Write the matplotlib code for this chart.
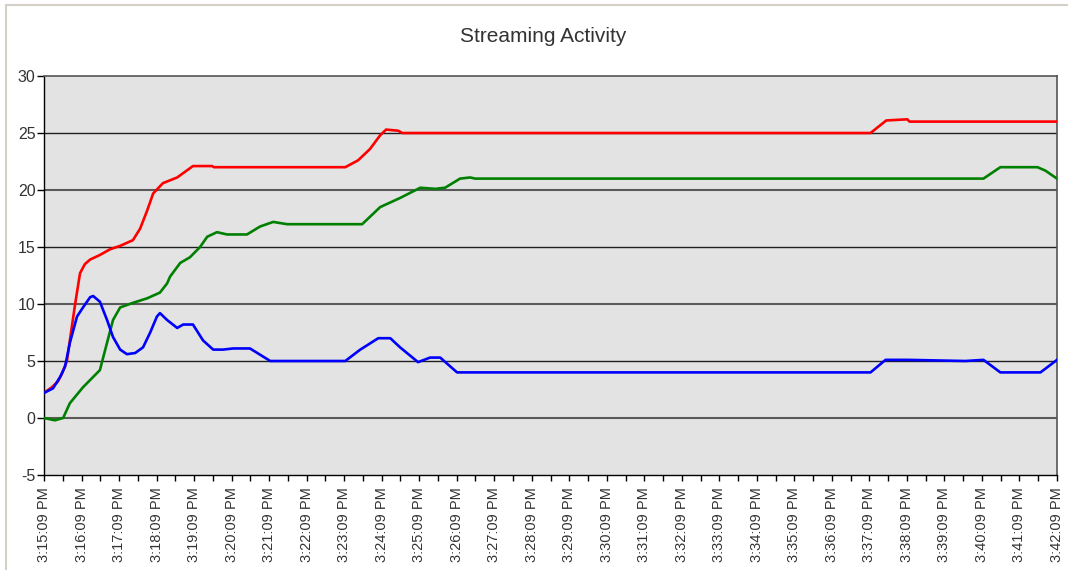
import matplotlib.pyplot as plt
import numpy as np

plt.rcParams['font.family'] = ['Liberation Sans', 'DejaVu Sans']
plt.rcParams['axes.unicode_minus'] = False

# time in minutes after 3:15:09 PM
red_t = [0.0, 0.21, 0.37, 0.48, 0.61, 0.72, 0.83, 0.96, 1.09, 1.23, 1.49, 1.76, 2.03, 2.37,
         2.56, 2.75, 2.91, 3.17, 3.55, 3.97, 4.48, 4.53, 8.03, 8.37, 8.69, 8.96, 9.12, 9.44,
         9.55, 22.03, 22.45, 23.01, 23.07, 27.0]
red_v = [2.2, 2.7, 3.2, 3.9, 5.0, 7.5, 10.0, 12.7, 13.5, 13.9, 14.3, 14.8, 15.1, 15.6,
         16.6, 18.2, 19.7, 20.6, 21.1, 22.1, 22.1, 22.0, 22.0, 22.6, 23.6, 24.8, 25.3, 25.2,
         25.0, 25.0, 26.1, 26.2, 26.0, 26.0]

green_t = [0.0, 0.29, 0.51, 0.69, 1.04, 1.31, 1.49, 1.68, 1.84, 2.03, 2.37, 2.75, 3.09,
           3.28, 3.36, 3.63, 3.89, 4.16, 4.35, 4.61, 4.88, 5.41, 5.76, 6.11, 6.48, 8.48,
           8.96, 9.49, 10.03, 10.43, 10.69, 11.09, 11.36, 11.49, 25.04, 25.49, 26.48,
           26.69, 27.0]
green_v = [0.0, -0.2, 0.0, 1.3, 2.7, 3.6, 4.2, 6.6, 8.6, 9.7, 10.1, 10.5, 11.0,
           11.8, 12.4, 13.6, 14.1, 15.0, 15.9, 16.3, 16.1, 16.1, 16.8, 17.2, 17.0, 17.0,
           18.5, 19.3, 20.2, 20.1, 20.2, 21.0, 21.1, 21.0, 21.0, 22.0, 22.0,
           21.7, 21.0]

blue_t = [0.0, 0.24, 0.43, 0.56, 0.69, 0.88, 1.04, 1.23, 1.31, 1.49, 1.68, 1.84, 2.03,
          2.21, 2.43, 2.64, 2.83, 3.01, 3.09, 3.28, 3.55, 3.71, 3.97, 4.24, 4.51, 4.77,
          5.04, 5.49, 6.03, 8.03, 8.43, 8.91, 9.23, 9.49, 9.97, 10.29, 10.56, 11.01,
          22.03, 22.43, 23.01, 24.56, 25.04, 25.49, 26.56, 27.0]
blue_v = [2.2, 2.6, 3.6, 4.5, 6.6, 8.9, 9.7, 10.6, 10.7, 10.2, 8.6, 7.1, 6.0,
          5.6, 5.7, 6.2, 7.5, 8.9, 9.2, 8.6, 7.9, 8.2, 8.2, 6.8, 6.0, 6.0,
          6.1, 6.1, 5.0, 5.0, 6.0, 7.0, 7.0, 6.2, 4.9, 5.3, 5.3, 4.0,
          4.0, 5.1, 5.1, 5.0, 5.1, 4.0, 4.0, 5.1]

minutes = list(range(15, 43))
tick_labels = [f"3:{m}:09 PM" for m in minutes]

fig = plt.figure(figsize=(10.68, 5.70), dpi=100)
fig.patch.set_facecolor('white')
# outer chart border
fig.add_artist(plt.Rectangle((6 / 1068, -0.05), 1.2, 1 - 5 / 570 + 0.05, transform=fig.transFigure,
                             fill=False, edgecolor='#d4d0c8', lw=1.5))

ax = fig.add_axes([44 / 1068, 1 - 475 / 570, (1057 - 44) / 1068, (475 - 76) / 570])
ax.set_facecolor('#e3e3e3')

for yv in [25, 20, 15, 10, 5, 0]:
    if yv % 10 == 0:
        ax.axhline(yv, color='#5a5a5a', lw=1.5, zorder=1)
    else:
        ax.axhline(yv, color='#202020', lw=1.0, zorder=1)

ax.plot(red_t, red_v, color='#ff0000', lw=1.9, zorder=3)
ax.plot(green_t, green_v, color='#008000', lw=1.9, zorder=3)
ax.plot(blue_t, blue_v, color='#0000ff', lw=1.9, zorder=4)

ax.set_xlim(0, 27)
ax.set_ylim(-5, 30)
ax.set_yticks(np.arange(-5, 31, 5))
ax.set_xticks(np.arange(0, 28, 1))
ax.set_xticks(np.arange(0.5, 27, 1), minor=True)
ax.set_xticklabels(tick_labels, rotation=90, fontsize=10.5, color='#333333')
ax.tick_params(axis='y', labelsize=11.5, labelcolor='#333333', length=5, width=1, pad=1)
ax.tick_params(axis='x', which='both', length=4, width=1, pad=5, direction='out')

for side in ['left', 'bottom']:
    ax.spines[side].set_color('black')
    ax.spines[side].set_linewidth(1.0)
for side in ['top', 'right']:
    ax.spines[side].set_color('#555555')
    ax.spines[side].set_linewidth(1.2)

fig.text(543 / 1068, 1 - 37 / 570, 'Streaming Activity', ha='center', va='center',
         fontsize=15, color='#333333')

plt.savefig('out.png', dpi=100)
